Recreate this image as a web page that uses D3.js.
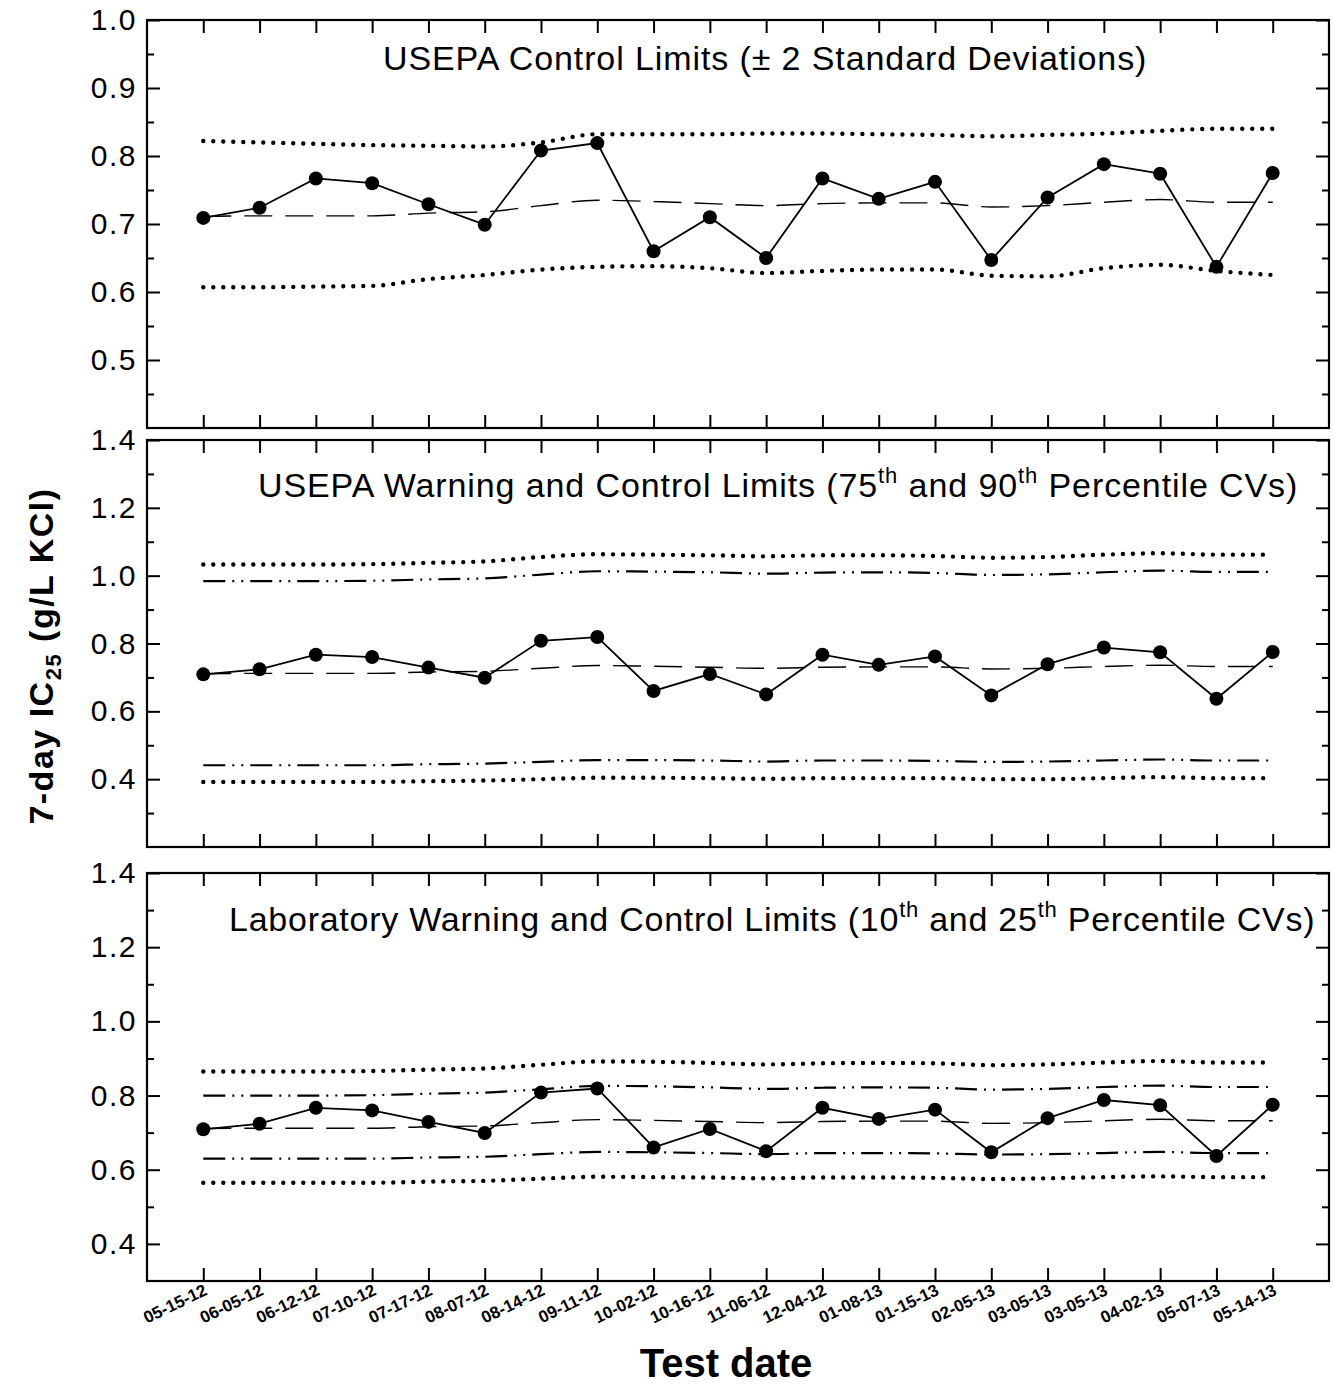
<!DOCTYPE html>
<html>
<head>
<meta charset="utf-8">
<script src="https://cdn.jsdelivr.net/npm/d3@7"></script>
<style>
  html, body { margin: 0; padding: 0; background: #fff; }
  svg { display: block; font-family: Arial, "Liberation Sans", sans-serif; }
</style>
</head>
<body>
<svg id="chart" width="1334" height="1387"></svg>
<script>
// Test dates (x categories)
const testDates = ["05-15-12","06-05-12","06-12-12","07-10-12","07-17-12","08-07-12","08-14-12",
  "09-11-12","10-02-12","10-16-12","11-06-12","12-04-12","01-08-13","01-15-13","02-05-13",
  "03-05-13","03-05-13","04-02-13","05-07-13","05-14-13"];

// 7-day IC25 results (g/L KCl)
const ic25 = [0.709,0.724,0.767,0.760,0.729,0.699,0.808,0.819,0.660,0.710,
  0.650,0.767,0.737,0.762,0.647,0.739,0.788,0.774,0.637,0.775];

// Running mean
const meanIC = [0.711,0.712,0.712,0.712,0.716,0.718,0.727,0.735,0.733,0.730,
  0.727,0.730,0.731,0.731,0.725,0.727,0.732,0.736,0.732,0.732];

// USEPA control limits (± 2 SD)
const sdUpper = [0.822,0.820,0.818,0.816,0.815,0.814,0.820,0.832,0.832,0.832,
  0.833,0.833,0.832,0.831,0.829,0.831,0.833,0.837,0.840,0.840];
const sdLower = [0.607,0.607,0.608,0.609,0.619,0.625,0.633,0.637,0.638,0.635,
  0.628,0.631,0.633,0.633,0.624,0.623,0.635,0.640,0.631,0.625];

// USEPA warning (75th percentile CV) and control (90th percentile CV) limits
const epaControlUpper = [1.033,1.033,1.033,1.034,1.038,1.042,1.055,1.063,1.062,1.060,
  1.057,1.060,1.060,1.058,1.053,1.055,1.062,1.066,1.062,1.062];
const epaWarningUpper = [0.984,0.984,0.984,0.985,0.989,0.992,1.003,1.013,1.012,1.010,
  1.006,1.009,1.010,1.008,1.002,1.004,1.010,1.015,1.011,1.011];
const epaWarningLower = [0.441,0.441,0.441,0.441,0.444,0.446,0.451,0.456,0.456,0.455,
  0.452,0.455,0.455,0.454,0.451,0.452,0.455,0.458,0.455,0.455];
const epaControlLower = [0.392,0.392,0.392,0.392,0.394,0.396,0.400,0.404,0.404,0.403,
  0.401,0.403,0.403,0.403,0.400,0.400,0.403,0.406,0.403,0.403];

// Laboratory warning (10th percentile CV) and control (25th percentile CV) limits
const labControlUpper = [0.865,0.865,0.865,0.866,0.870,0.873,0.883,0.892,0.891,0.888,
  0.884,0.887,0.888,0.887,0.882,0.884,0.889,0.893,0.889,0.889];
const labWarningUpper = [0.800,0.800,0.800,0.801,0.805,0.808,0.817,0.826,0.825,0.822,
  0.818,0.821,0.822,0.821,0.816,0.818,0.823,0.827,0.823,0.823];
const labWarningLower = [0.630,0.630,0.630,0.630,0.633,0.635,0.642,0.648,0.647,0.645,
  0.642,0.645,0.645,0.644,0.641,0.642,0.645,0.648,0.645,0.645];
const labControlLower = [0.565,0.565,0.565,0.565,0.568,0.570,0.576,0.581,0.580,0.579,
  0.577,0.579,0.579,0.578,0.575,0.577,0.580,0.582,0.580,0.580];

// Y-axis ticks per panel
const p1Major = [0.5,0.6,0.7,0.8,0.9,1.0];
const p1Minor = [0.45,0.55,0.65,0.75,0.85,0.95];
const p2Major = [0.4,0.6,0.8,1.0,1.2,1.4];
const p2Minor = [0.3,0.5,0.7,0.9,1.1,1.3];
const p3Major = [0.4,0.6,0.8,1.0,1.2,1.4];
const p3Minor = [0.5,0.7,0.9,1.1,1.3];

const svg = d3.select("#chart");
const left = 147, right = 1329;
const idx = d3.range(testDates.length);
const x = d3.scaleLinear().domain([-1, testDates.length]).range([left, right]);

const DOT = { dash: "0 10", width: 4.4, cap: "round" };
const DASH = { dash: "28 13", width: 1.4, cap: "butt" };
const DASHDOT = { dash: "22 7 2 7 2 7", width: 2.2, cap: "butt" };

const panels = [
  { top: 20, bottom: 428, domain: [0.4, 1.0], major: p1Major, minor: p1Minor,
    title: [{t: "USEPA Control Limits (\u00B1 2 Standard Deviations)"}], titleX: 383, titleY: 70, spacing: 0.9,
    lines: [[sdUpper, DOT], [sdLower, DOT]] },
  { top: 440, bottom: 847, domain: [0.2, 1.4], major: p2Major, minor: p2Minor,
    title: [{t: "USEPA Warning and Control Limits (75"}, {t: "th", sup: true}, {t: " and 90"},
            {t: "th", sup: true}, {t: " Percentile CVs)"}], titleX: 258, titleY: 497, spacing: 0.9,
    lines: [[epaControlUpper, DOT], [epaWarningUpper, DASHDOT], [epaWarningLower, DASHDOT], [epaControlLower, DOT]] },
  { top: 873, bottom: 1281, domain: [0.3, 1.4], major: p3Major, minor: p3Minor,
    title: [{t: "Laboratory Warning and Control Limits (10"}, {t: "th", sup: true}, {t: " and 25"},
            {t: "th", sup: true}, {t: " Percentile CVs)"}], titleX: 229, titleY: 931, spacing: 0.75,
    lines: [[labControlUpper, DOT], [labWarningUpper, DASHDOT], [labWarningLower, DASHDOT], [labControlLower, DOT]] }
];

panels.forEach(p => {
  const y = d3.scaleLinear().domain(p.domain).range([p.bottom, p.top]);
  const g = svg.append("g");

  // frame
  g.append("rect").attr("x", left).attr("y", p.top)
    .attr("width", right - left).attr("height", p.bottom - p.top)
    .attr("fill", "none").attr("stroke", "#000").attr("stroke-width", 2.2);

  // left axis: major with labels, minor unlabeled
  const la = g.append("g").attr("transform", `translate(${left},0)`)
    .call(d3.axisLeft(y).tickValues(p.major).tickSize(-13).tickPadding(10).tickFormat(d3.format(".1f")));
  const lm = g.append("g").attr("transform", `translate(${left},0)`)
    .call(d3.axisLeft(y).tickValues(p.minor).tickSize(-7).tickFormat(""));
  // right axis mirrors ticks inward
  const ra = g.append("g").attr("transform", `translate(${right},0)`)
    .call(d3.axisRight(y).tickValues(p.major).tickSize(-13).tickFormat(""));
  const rm = g.append("g").attr("transform", `translate(${right},0)`)
    .call(d3.axisRight(y).tickValues(p.minor).tickSize(-7).tickFormat(""));
  // top and bottom category ticks
  const ta = g.append("g").attr("transform", `translate(0,${p.top})`)
    .call(d3.axisTop(x).tickValues(idx).tickSize(-13).tickFormat(""));
  const ba = g.append("g").attr("transform", `translate(0,${p.bottom})`)
    .call(d3.axisBottom(x).tickValues(idx).tickSize(-13).tickFormat(""));

  [la, lm, ra, rm, ta, ba].forEach(a => {
    a.select(".domain").remove();
    a.selectAll(".tick line").attr("stroke", "#000").attr("stroke-width", 2);
  });
  la.selectAll(".tick text").attr("font-size", 30).attr("letter-spacing", 1.5).attr("fill", "#000")
    .attr("font-family", "Arial, 'Liberation Sans', sans-serif");

  // limit lines
  p.lines.forEach(([vals, st]) => {
    g.append("path").datum(vals)
      .attr("d", d3.line().x((d, i) => x(i)).y(d => y(d)).curve(d3.curveMonotoneX))
      .attr("fill", "none").attr("stroke", "#000")
      .attr("stroke-width", st.width).attr("stroke-dasharray", st.dash)
      .attr("stroke-linecap", st.cap);
  });

  // mean line
  g.append("path").datum(meanIC)
    .attr("d", d3.line().x((d, i) => x(i)).y(d => y(d)).curve(d3.curveMonotoneX))
    .attr("fill", "none").attr("stroke", "#000")
    .attr("stroke-width", DASH.width).attr("stroke-dasharray", DASH.dash);

  // data series
  g.append("path").datum(ic25)
    .attr("d", d3.line().x((d, i) => x(i)).y(d => y(d)))
    .attr("fill", "none").attr("stroke", "#000").attr("stroke-width", 1.8);
  g.selectAll("circle.pt").data(ic25).join("circle").attr("class", "pt")
    .attr("cx", (d, i) => x(i)).attr("cy", d => y(d)).attr("r", 7).attr("fill", "#000");

  // panel title
  const t = g.append("text").attr("x", p.titleX).attr("y", p.titleY)
    .attr("font-size", 34).attr("letter-spacing", p.spacing).attr("fill", "#000");
  p.title.forEach(s => {
    if (s.sup) {
      t.append("tspan").attr("font-size", 22).attr("dy", -14).text(s.t);
    } else {
      const ts = t.append("tspan").text(s.t);
      if (t.selectAll("tspan").size() > 1) ts.attr("dy", 14);
    }
  });
});

// date labels under the bottom panel
svg.append("g").selectAll("text").data(testDates).join("text")
  .attr("transform", (d, i) => `translate(${x(i) + 5},${1294}) rotate(-26)`)
  .attr("text-anchor", "end").attr("font-size", 17).attr("font-weight", "bold")
  .attr("fill", "#000").text(d => d);

// axis titles
svg.append("text").attr("x", 726).attr("y", 1377).attr("text-anchor", "middle")
  .attr("font-size", 40).attr("font-weight", "bold").attr("fill", "#000").text("Test date");

const yl = svg.append("text").attr("transform", "translate(53,656) rotate(-90)")
  .attr("text-anchor", "middle").attr("font-size", 34).attr("letter-spacing", 1.5)
  .attr("font-weight", "bold").attr("fill", "#000");
yl.append("tspan").text("7-day IC");
yl.append("tspan").attr("font-size", 22).attr("dy", 8).text("25");
yl.append("tspan").attr("dy", -8).text(" (g/L KCl)");
</script>
</body>
</html>
